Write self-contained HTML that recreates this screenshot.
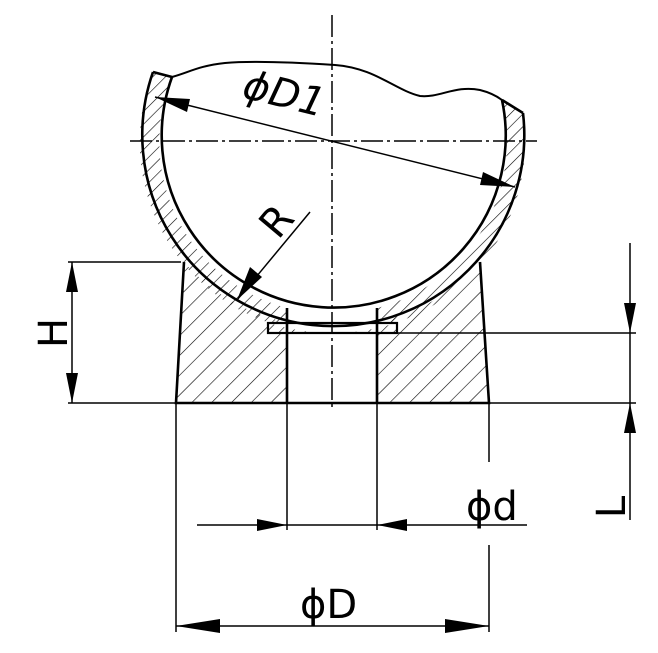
<!DOCTYPE html>
<html><head><style>html,body{margin:0;padding:0;background:#fff}svg{display:block}</style></head><body>
<svg width="658" height="653" viewBox="0 0 658 653" xmlns="http://www.w3.org/2000/svg">
<defs>
<pattern id="h1" width="9" height="9" patternUnits="userSpaceOnUse" patternTransform="rotate(45)"><line x1="0" y1="0" x2="0" y2="9" stroke="#000" stroke-width="1.2"/></pattern>
<pattern id="h2" width="14" height="14" patternUnits="userSpaceOnUse" patternTransform="rotate(45)"><line x1="0" y1="0" x2="0" y2="14" stroke="#000" stroke-width="1.2"/></pattern>
</defs>
<g fill="none" stroke="#000">
<path d="M184,262 L176,403 L287,403 L287,333 L268,333 L268,323 L290,323 A191,191 0 0 1 184,262 Z" fill="url(#h2)" stroke="none"/>
<path d="M480,262 L489,403 L377,403 L377,333 L397,333 L397,323 L375,323 A191,191 0 0 0 480,262 Z" fill="url(#h2)" stroke="none"/>
<path d="M153,72 L172,77 A172,172 0 0 0 287,308 L287,323 L268,323 L268,333 L332,333 A191,191 0 0 1 153,72 Z" fill="url(#h1)" stroke="none"/>
<path d="M523,113 L502,100 A172,172 0 0 1 377,308 L377,323 L397,323 L397,333 L332,333 A191,191 0 0 0 523,113 Z" fill="url(#h1)" stroke="none"/>
<rect x="288" y="300" width="88" height="22" fill="#fff" stroke="none"/>
<g stroke-width="2.6">
<path d="M153,72 A191,191 0 1 0 523,113"/>
<path d="M172,77 A172,172 0 1 0 502,100"/>
<path d="M153,72 L172,77 M523,113 L502,100"/>
<path d="M172,77 C190,72 198,66 225,63 C260,60 320,64 335,65 C375,68 395,90 420,96 C440,98 455,85 480,90 C492,93 498,97 502,100" stroke-width="2"/>
<path d="M184,262 L176,403 L489,403 L480,262"/>
<path d="M287,308 L287,403 M377,308 L377,403"/>
<rect x="268" y="323" width="129" height="10" stroke-width="2.2"/>
</g>
<g stroke-width="1.5" stroke-dasharray="22,4,3,4">
<line x1="332" y1="15" x2="332" y2="410"/>
<line x1="130" y1="141" x2="537" y2="141"/>
</g>
<g stroke-width="1.5">
<line x1="68" y1="262" x2="181" y2="262"/>
<line x1="68" y1="403" x2="176" y2="403"/>
<line x1="72" y1="262" x2="72" y2="403"/>
<line x1="489" y1="403" x2="636" y2="403"/>
<line x1="397" y1="333" x2="636" y2="333"/>
<line x1="630" y1="243" x2="630" y2="520"/>
<line x1="287" y1="403" x2="287" y2="530"/>
<line x1="377" y1="403" x2="377" y2="530"/>
<line x1="197" y1="525" x2="527" y2="525"/>
<line x1="176" y1="403" x2="176" y2="632"/>
<line x1="489" y1="403" x2="489" y2="462"/>
<line x1="489" y1="545" x2="489" y2="632"/>
<line x1="176" y1="626" x2="489" y2="626"/>
<line x1="155" y1="97" x2="515" y2="187"/>
<line x1="310" y1="212" x2="237" y2="300"/>
</g>
<g fill="#000" stroke="none">
<path d="M72,262 L66,292 L78,292Z M72,403 L66,373 L78,373Z"/>
<path d="M630,333 L624,303 L636,303Z M630,403 L624,433 L636,433Z"/>
<path d="M287,525 L257,519 L257,531Z M377,525 L407,519 L407,531Z"/>
<path d="M176,626 L220,619 L220,633Z M489,626 L445,619 L445,633Z"/>
<path d="M155,97 L190,99 L187,112Z M515,187 L480,185 L483,172Z"/>
<path d="M237,300 L250,267 L262,277Z"/>
</g>
</g>
<g font-family="DejaVu Sans, sans-serif" fill="#000">
<text x="300" y="618" font-size="40">ϕD</text>
<text x="466" y="520" font-size="40">ϕd</text>
<text transform="translate(281,107) rotate(14)" font-size="40" font-style="italic" text-anchor="middle">ϕD1</text>
<text transform="translate(287,230) rotate(-50)" font-size="40" text-anchor="middle">R</text>
<text transform="translate(67,333) rotate(-90)" font-size="40" text-anchor="middle">H</text>
<text transform="translate(625,507) rotate(-90)" font-size="40" text-anchor="middle">L</text>
</g>
</svg>
</body></html>
